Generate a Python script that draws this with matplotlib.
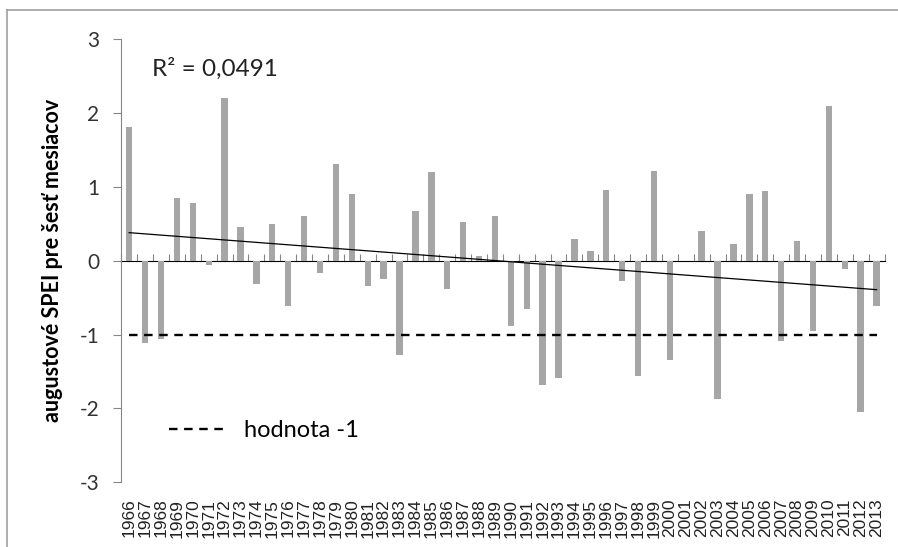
import matplotlib.pyplot as plt
import numpy as np
from matplotlib.lines import Line2D

plt.rcParams['axes.unicode_minus'] = False

years = list(range(1966, 2014))
spei = [1.82, -1.12, -1.06, 0.85, 0.78, -0.06, 2.21, 0.46, -0.31, 0.50,
        -0.61, 0.61, -0.16, 1.31, 0.90, -0.34, -0.25, -1.28, 0.67, 1.21,
        -0.38, 0.52, 0.06, 0.61, -0.89, -0.65, -1.69, -1.59, 0.29, 0.13,
        0.96, -0.27, -1.56, 1.22, -1.35, 0.0, 0.41, -1.87, 0.23, 0.91,
        0.95, -1.09, 0.27, -0.95, 2.10, -0.11, -2.05, -0.61]
threshold = -1
r2_text = 'R² = 0,0491'
ylabel = 'augustové SPEI pre šesť mesiacov'
legend_label = 'hodnota -1'

grey = '#868686'
x = np.arange(len(years))

fig = plt.figure(figsize=(8.98, 5.47), dpi=100)
ax = fig.add_axes([0.135, 0.1188, 0.850, 0.809])

ax.bar(x, spei, width=0.4, color='#A6A6A6', zorder=2)

# linear trend
k, q = np.polyfit(x, spei, 1)
ax.plot(x, k * x + q, color='black', lw=0.9, zorder=3)

# threshold line
ax.plot([x[0], x[-1]], [threshold, threshold], color='black', lw=1.7,
        dashes=(3.6, 2.8), zorder=3, label=legend_label)

ax.set_xlim(-0.5, len(years) - 0.5)
ax.set_ylim(-3, 3)
ax.set_yticks(range(-3, 4))
ax.tick_params(axis='y', direction='out', length=6, color=grey, pad=10,
               labelsize=15, labelcolor='#333333')
for lbl in ax.get_yticklabels():
    lbl.set_family('Lato')

ax.set_xticks(x)
ax.set_xticklabels([str(y) for y in years], rotation=90, fontsize=12.5,
                   family='Liberation Sans', color='#222222')
ax.tick_params(axis='x', length=0, pad=12)

for s in ['top', 'right', 'bottom']:
    ax.spines[s].set_visible(False)
ax.spines['left'].set_color(grey)

# zero axis with category tick marks
sec = ax.secondary_xaxis(0.5)
sec.set_xticks(np.arange(len(years) + 1) - 0.5)
sec.set_xticklabels([])
sec.tick_params(direction='out', length=5, color=grey)
sec.spines['bottom'].set_color(grey)

ax.set_ylabel(ylabel, fontsize=15.5, fontweight='bold', family='Lato',
              labelpad=12)

ax.text(0.04, 0.96, r2_text, transform=ax.transAxes, fontsize=17.5,
        family='Lato', va='top', ha='left', color='#222222')

ax.legend(loc='lower left', bbox_to_anchor=(0.035, 0.045), frameon=False,
          handlelength=2.45, prop={'family': 'Lato', 'size': 17},
          handletextpad=0.7)

# outer chart border
fig.add_artist(Line2D([7 / 898, 7 / 898], [0, 1 - 10 / 547],
                      transform=fig.transFigure, color='#A0A0A0', lw=1.2))
fig.add_artist(Line2D([7 / 898, 1], [1 - 10 / 547, 1 - 10 / 547],
                      transform=fig.transFigure, color='#A0A0A0', lw=1.2))

fig.savefig('out.png', dpi=100)
